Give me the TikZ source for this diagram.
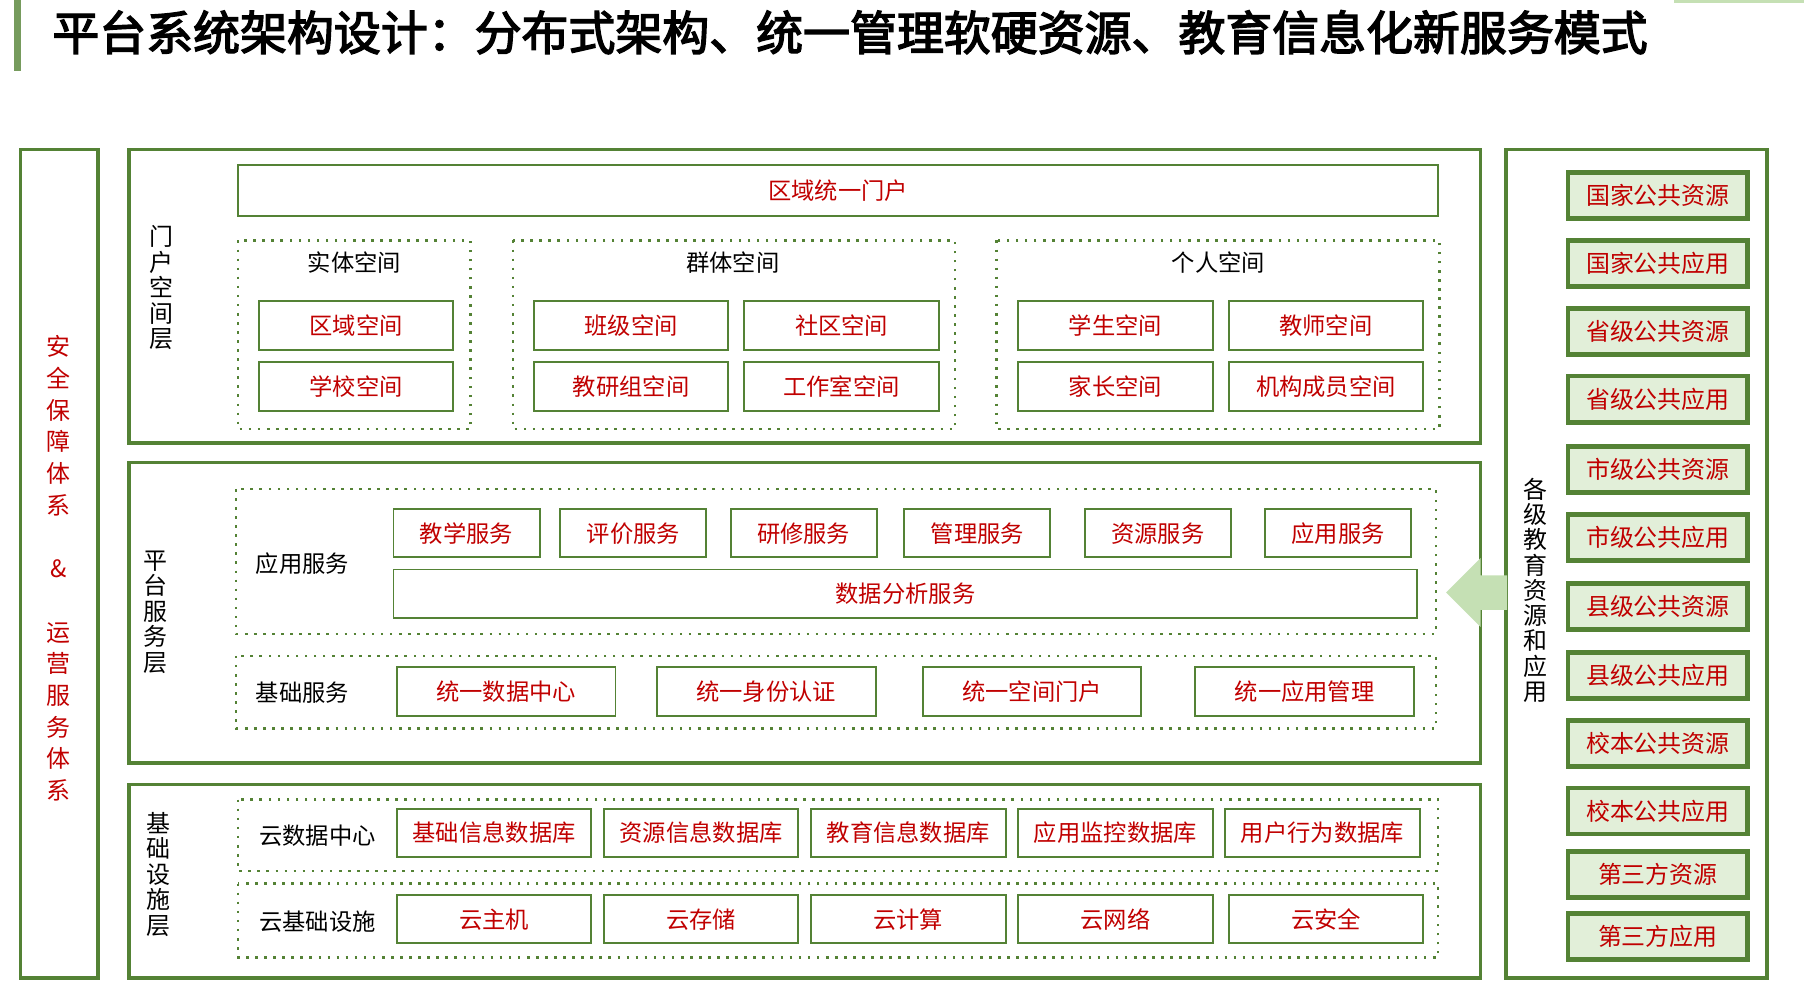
\documentclass[tikz,border=0pt]{standalone}
\usepackage{fontspec}
\setmainfont{Noto Sans CJK SC}
\newfontfamily\titlefont{Noto Sans CJK SC}[FakeBold=3]
\usetikzlibrary{positioning}
\definecolor{frgreen}{HTML}{548235}
\definecolor{txtred}{HTML}{C00000}
\definecolor{palegreen}{HTML}{E2EFD9}
\definecolor{arrgreen}{HTML}{C5E0B4}
\newcommand{\un}{0.0125cm}
\tikzset{
  layerbox/.style={draw=frgreen, line width=1.1pt},
  groupbox/.style={draw=frgreen, line width=0.8pt, dotted},
  itembox/.style={draw=frgreen, line width=0.6pt, text=txtred, font=\fontsize{7.2}{8}\selectfont,
    minimum width=169*\un, minimum height=42*\un, inner sep=0pt},
  svcbox/.style={itembox, minimum width=127*\un},
  resbox/.style={draw=frgreen, line width=1.4pt, fill=palegreen, text=txtred,
    font=\fontsize{7.4}{8}\selectfont, minimum width=156*\un, minimum height=40*\un, inner sep=0pt},
  grouptitle/.style={font=\fontsize{7.2}{8}\selectfont},
  vlabel/.style={align=center, font=\fontsize{7.4}{7.9}\selectfont, inner sep=0pt},
}
\begin{document}
\begin{tikzpicture}[x=\un, y=-\un]
\useasboundingbox (0,0) rectangle (1568,864);
% title
\fill[frgreen!80] (12,0) rectangle (18,62);
\fill[arrgreen] (1455,0) rectangle (1568,3);
\node[anchor=west, inner sep=0pt, font=\titlefont\fontsize{14.5}{16}\selectfont] (title) at (45,28)
  {平台系统架构设计：分布式架构、统一管理软硬资源、教育信息化新服务模式};
% left column
\draw[layerbox] (18,130) rectangle (85,850);
\node[vlabel, text=txtred, font=\fontsize{7.4}{9.8}\selectfont] (safety) at (51,494)
  {安\\全\\保\\障\\体\\系\\ \\\&\\ \\运\\营\\服\\务\\体\\系};
% portal layer
\draw[layerbox] (112,130) rectangle (1287,385);
\node[vlabel] (portal) at (140,250) {门\\户\\空\\间\\层};
\node[draw=frgreen, line width=0.6pt, text=txtred, font=\fontsize{7.2}{8}\selectfont,
  minimum width=1043*\un, minimum height=45*\un] (region) at (728.5,165.5) {区域统一门户};
\draw[groupbox] (207,209) rectangle (409,373);
\draw[groupbox] (446,209) rectangle (830,373);
\draw[groupbox] (866,209) rectangle (1251,373);
\node[grouptitle] (g1) at (308,228) {实体空间};
\node[grouptitle] (g2) at (637,228) {群体空间};
\node[grouptitle] (g3) at (1059,228) {个人空间};
\node[itembox] (p1) at (309.5,283) {区域空间};
\node[itembox] (p2) at (309.5,336) {学校空间};
\node[itembox] (p3) at (548.5,283) {班级空间};
\node[itembox] (p4) at (731.5,283) {社区空间};
\node[itembox] (p5) at (548.5,336) {教研组空间};
\node[itembox] (p6) at (731.5,336) {工作室空间};
\node[itembox] (p7) at (969.5,283) {学生空间};
\node[itembox] (p8) at (1152.5,283) {教师空间};
\node[itembox] (p9) at (969.5,336) {家长空间};
\node[itembox] (p10) at (1152.5,336) {机构成员空间};
% platform layer
\draw[layerbox] (112,402) rectangle (1287,663);
\node[vlabel] (platform) at (135,532) {平\\台\\服\\务\\层};
\draw[groupbox] (205,425) rectangle (1248,551);
\draw[groupbox] (205,570) rectangle (1248,633);
\node[grouptitle] (appsvc) at (263,490) {应用服务};
\node[grouptitle] (basesvc) at (263,602) {基础服务};
\foreach \cx/\txt [count=\i] in {405.5/教学服务, 550.5/评价服务, 698.5/研修服务,
    849.5/管理服务, 1006.5/资源服务, 1163/应用服务}
  \node[svcbox] (a\i) at (\cx,463.5) {\txt};
\node[itembox, minimum width=890*\un] (data) at (787,516) {数据分析服务};
\foreach \cx/\txt [count=\i] in {440/统一数据中心, 666/统一身份认证, 897/统一空间门户, 1134/统一应用管理}
  \node[itembox, minimum width=190*\un] (b\i) at (\cx,601) {\txt};
% infrastructure layer
\draw[layerbox] (112,682) rectangle (1287,850);
\node[vlabel] (infra) at (138,760) {基\\础\\设\\施\\层};
\draw[groupbox] (207,695) rectangle (1250,757);
\draw[groupbox] (207,768) rectangle (1250,832);
\node[grouptitle] (clouddc) at (276,726) {云数据中心};
\node[grouptitle] (cloudinf) at (276,801) {云基础设施};
\foreach \cx/\txt [count=\i] in {429.5/基础信息数据库, 609.5/资源信息数据库, 789.5/教育信息数据库,
    969.5/应用监控数据库, 1149.5/用户行为数据库}
  \node[itembox] (d\i) at (\cx,724) {\txt};
\foreach \cx/\txt [count=\i] in {429.5/云主机, 609.5/云存储, 789.5/云计算, 969.5/云网络, 1152.5/云安全}
  \node[itembox] (c\i) at (\cx,799) {\txt};
% right column
\draw[layerbox] (1309,130) rectangle (1536,850);
\node[vlabel, font=\fontsize{7.4}{7.8}\selectfont] (edures) at (1335,513)
  {各\\级\\教\\育\\资\\源\\和\\应\\用};
\fill[arrgreen] (1257,515) -- (1287,485) -- (1287,500) -- (1310,500)
  -- (1310,530) -- (1287,530) -- (1287,545) -- cycle;
\foreach \cy/\txt [count=\i] in {170/国家公共资源, 229/国家公共应用, 288/省级公共资源, 347/省级公共应用,
    408/市级公共资源, 467/市级公共应用, 527/县级公共资源, 587/县级公共应用,
    646/校本公共资源, 705/校本公共应用, 760/第三方资源, 814/第三方应用}
  \node[resbox] (r\i) at (1441,\cy) {\txt};
\end{tikzpicture}
\end{document}
